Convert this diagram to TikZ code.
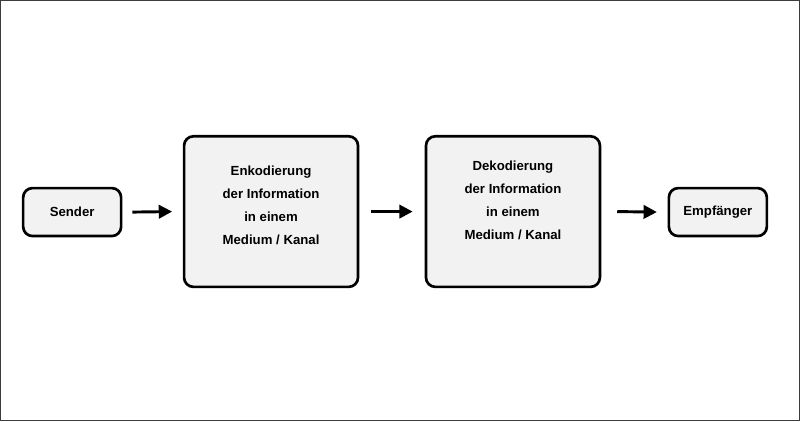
\documentclass[tikz,border=0pt]{standalone}
\usepackage{fontspec}
\setmainfont{Liberation Sans}
\usetikzlibrary{arrows.meta}
\begin{document}
\begin{tikzpicture}[x=0.75pt,y=-0.75pt,
 box/.style={draw=black,line width=2pt,fill={rgb,255:red,242;green,242;blue,242},rounded corners=7pt,inner sep=0pt},
 lbl/.style={align=center,font=\bfseries\fontsize{9.9}{17.25}\selectfont,inner sep=0pt},
 arr/.style={-{Triangle[length=10pt,width=10pt]},line width=2.2pt}]
\draw[line width=1pt,draw={rgb,255:red,60;green,60;blue,60}] (0.5,0.5) rectangle (799.5,420.5);
\useasboundingbox (0,0) rectangle (800,421);
\node[box,minimum width=73.5pt,minimum height=36pt] (s) at (72,212) {};
\node[box,minimum width=130.5pt,minimum height=113pt] (e) at (271,211.5) {};
\node[box,minimum width=130.5pt,minimum height=113pt] (d) at (513,211.5) {};
\node[box,minimum width=73.5pt,minimum height=36pt] (r) at (718,212) {};
\node[lbl] (st) at (s) {Sender};
\node[lbl] (et) at (271,205) {Enkodierung\\der Information\\in einem\\Medium / Kanal};
\node[lbl] (dt) at (513,200) {Dekodierung\\der Information\\in einem\\Medium / Kanal};
\node[lbl] (rt) at (r) {Empfänger};
\draw[arr] ([xshift=7.5pt]s.east) -- ([xshift=-8pt]e.west);
\draw[arr] ([xshift=9pt]e.east) -- ([xshift=-9pt]d.west);
\draw[arr] ([xshift=12pt]d.east) -- ([xshift=-8pt]r.west);
\end{tikzpicture}
\end{document}
